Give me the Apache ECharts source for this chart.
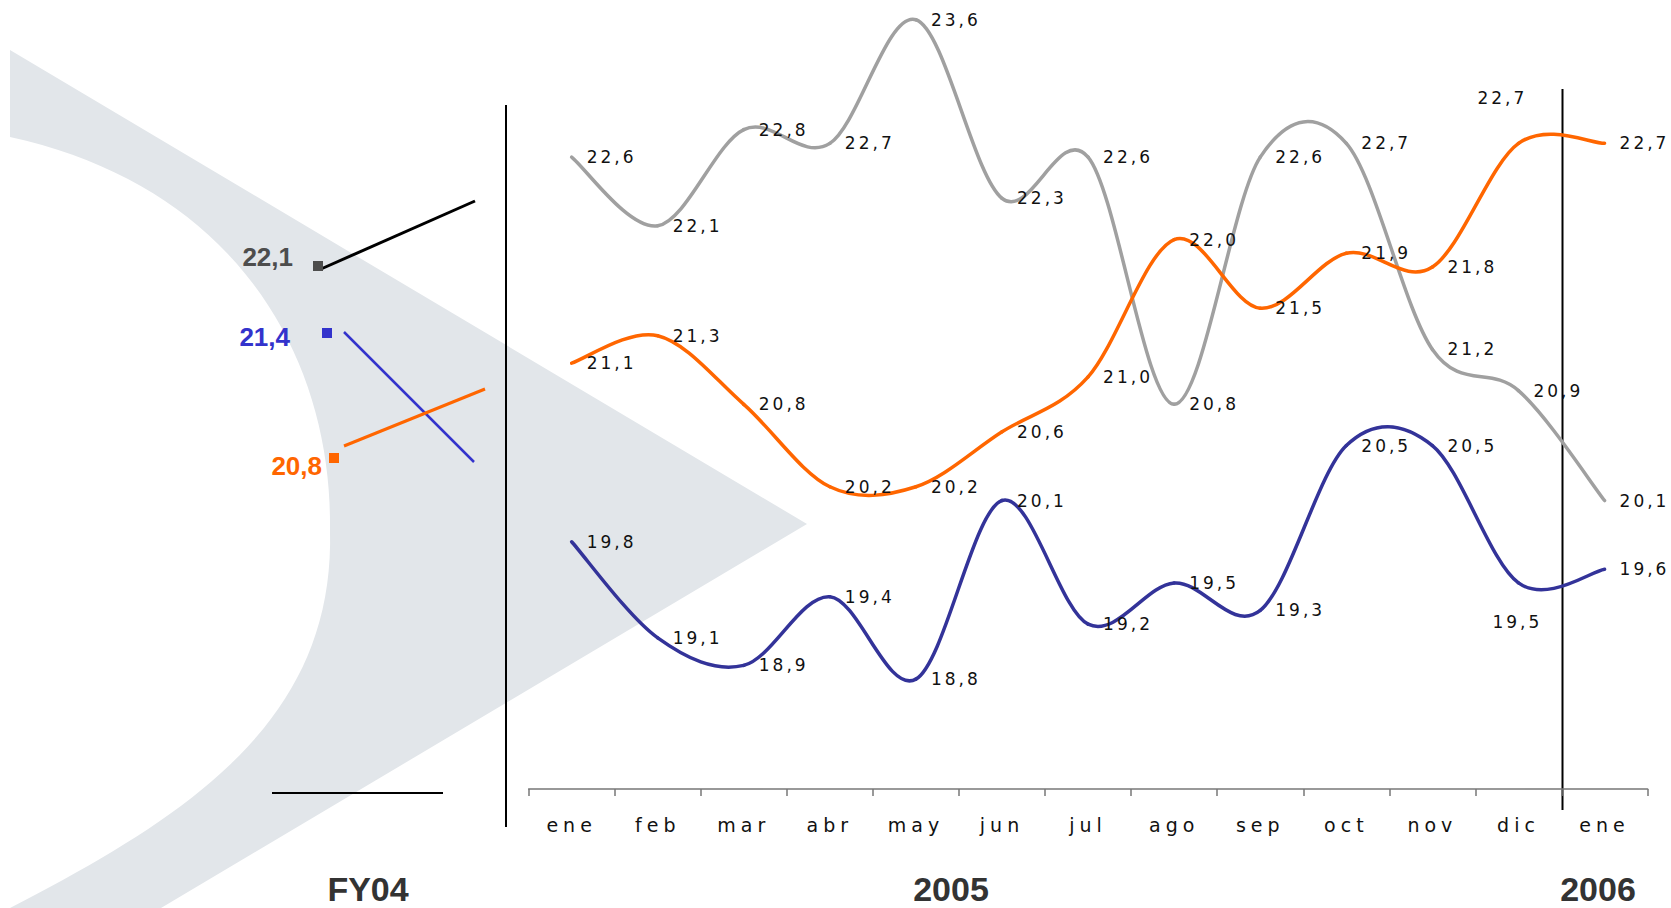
<!DOCTYPE html>
<html>
<head>
<meta charset="utf-8">
<script src="https://cdn.jsdelivr.net/npm/echarts@6/dist/echarts.min.js"></script>
<style>
  html, body { margin: 0; padding: 0; background: #ffffff; }
  #chart { width: 1671px; height: 908px; }
  #chart text { letter-spacing: 3px; }
  #chart text[style*="19px"] { letter-spacing: 5px; }
  #chart text[style*="bold"] { letter-spacing: 0px; }
</style>
</head>
<body>
<div id="chart"></div>
<script>
// ---- data ----
const months = ['ene', 'feb', 'mar', 'abr', 'may', 'jun', 'jul', 'ago', 'sep', 'oct', 'nov', 'dic', 'ene'];
const grayValues   = [22.6, 22.1, 22.8, 22.7, 23.6, 22.3, 22.6, 20.8, 22.6, 22.7, 21.2, 20.9, 20.1];
const orangeValues = [21.1, 21.3, 20.8, 20.2, 20.2, 20.6, 21.0, 22.0, 21.5, 21.9, 21.8, 22.7, 22.7];
const blueValues   = [19.8, 19.1, 18.9, 19.4, 18.8, 20.1, 19.2, 19.5, 19.3, 20.5, 20.5, 19.5, 19.6];
const fy04Labels   = ['22,1', '21,4', '20,8'];
const periodLabels = ['FY04', '2005', '2006'];

const GRAY = '#a0a0a0', ORANGE = '#ff6600', BLUE = '#333399';
const fmt = v => v.toFixed(1).replace('.', ',');

// rows: [index, previous, current, next, next-next] (ends repeat the edge value)
function rows(values) {
  const n = values.length;
  return values.map((v, i) => [
    i,
    values[Math.max(i - 1, 0)],
    v,
    values[Math.min(i + 1, n - 1)],
    values[Math.min(i + 2, n - 1)]
  ]);
}

// smoothed (Catmull-Rom style, 1/6 tension) line + value label, drawn via the axis scales
function smoothSeries(name, values, color, z, labelOffsets) {
  const n = values.length;
  return {
    name: name, type: 'custom', coordinateSystem: 'cartesian2d', z: z,
    encode: { x: 0, y: 2 },
    data: rows(values),
    renderItem: function (params, api) {
      const i = api.value(0);
      const iPrev = Math.max(i - 1, 0), iNext = Math.min(i + 1, n - 1), iNext2 = Math.min(i + 2, n - 1);
      const p0 = api.coord([iPrev, api.value(1)]);
      const p1 = api.coord([i, api.value(2)]);
      const p2 = api.coord([iNext, api.value(3)]);
      const p3 = api.coord([iNext2, api.value(4)]);
      const children = [];
      if (i < n - 1) {
        children.push({
          type: 'bezierCurve',
          shape: {
            x1: p1[0], y1: p1[1],
            cpx1: p1[0] + (p2[0] - p0[0]) / 6, cpy1: p1[1] + (p2[1] - p0[1]) / 6,
            cpx2: p2[0] - (p3[0] - p1[0]) / 6, cpy2: p2[1] - (p3[1] - p1[1]) / 6,
            x2: p2[0], y2: p2[1]
          },
          style: { stroke: color, lineWidth: 3.5, fill: null, lineCap: 'round' }
        });
      }
      const off = labelOffsets[i] || [0, 0];
      children.push({
        type: 'text', z2: 10,
        x: p1[0] + 15 + off[0], y: p1[1] + off[1],
        style: {
          text: fmt(api.value(2)), fill: '#111', fontSize: 17, fontFamily: 'DejaVu Sans',
          align: 'left', verticalAlign: 'middle'
        }
      });
      return { type: 'group', children: children };
    }
  };
}

// background decoration outline (sampled cubic curves)
function cubic(p0, p1, p2, p3, n) {
  const pts = [];
  for (let k = 1; k <= n; k++) {
    const t = k / n, u = 1 - t;
    pts.push([
      u*u*u*p0[0] + 3*u*u*t*p1[0] + 3*u*t*t*p2[0] + t*t*t*p3[0],
      u*u*u*p0[1] + 3*u*u*t*p1[1] + 3*u*t*t*p2[1] + t*t*t*p3[1]
    ]);
  }
  return pts;
}
const shapePts = [[10, 50], [807, 524], [161, 908], [10, 908]]
  .concat(cubic([10, 908], [190, 815], [335, 720], [330, 530], 40))
  .concat(cubic([330, 530], [332, 350], [230, 185], [10, 137], 40));

const chart = echarts.init(document.getElementById('chart'), null, { renderer: 'svg' });

const boldText = (x, y, text, fill, size, align) => ({
  type: 'text', x: x, y: y,
  style: { text: text, fill: fill, fontSize: size, fontWeight: 'bold', fontFamily: 'Liberation Sans', align: align, verticalAlign: 'middle' }
});

const option = {
  animation: false,
  backgroundColor: '#ffffff',
  grid: { left: 528.6, right: 23.4, top: 6, bottom: 119, containLabel: false },
  xAxis: {
    type: 'category', data: months, boundaryGap: true,
    axisLine: { show: true, lineStyle: { color: '#777777', width: 1.5 } },
    axisTick: { show: true, length: 7, lineStyle: { color: '#777777', width: 1.5 } },
    axisLabel: { margin: 26, color: '#111', fontSize: 19, fontFamily: 'DejaVu Sans' },
    splitLine: { show: false }
  },
  yAxis: { type: 'value', min: 18, max: 23.7, show: false, splitLine: { show: false } },
  graphic: [
    { type: 'polygon', z: -10, silent: true, shape: { points: shapePts }, style: { fill: '#e2e6ea' } },
    { type: 'line', shape: { x1: 506, y1: 105, x2: 506, y2: 827 }, style: { stroke: '#000', lineWidth: 2 } },
    { type: 'line', shape: { x1: 1562.5, y1: 89, x2: 1562.5, y2: 810 }, style: { stroke: '#000', lineWidth: 2 } },
    { type: 'line', shape: { x1: 272, y1: 793, x2: 443, y2: 793 }, style: { stroke: '#000', lineWidth: 2 } },
    { type: 'line', shape: { x1: 321, y1: 269, x2: 475, y2: 201 }, style: { stroke: '#000', lineWidth: 3 } },
    { type: 'line', shape: { x1: 344, y1: 332, x2: 474, y2: 462 }, style: { stroke: '#3333cc', lineWidth: 2.5 } },
    { type: 'line', shape: { x1: 344, y1: 446, x2: 485, y2: 389 }, style: { stroke: ORANGE, lineWidth: 3 } },
    { type: 'rect', shape: { x: 313, y: 261, width: 10, height: 10 }, style: { fill: '#4d4d4d' } },
    { type: 'rect', shape: { x: 322, y: 328, width: 10, height: 10 }, style: { fill: '#3333cc' } },
    { type: 'rect', shape: { x: 329, y: 453, width: 10, height: 10 }, style: { fill: ORANGE } },
    boldText(293, 257, fy04Labels[0], '#4d4d4d', 26, 'right'),
    boldText(290, 337, fy04Labels[1], '#3333cc', 26, 'right'),
    boldText(322, 466, fy04Labels[2], ORANGE, 26, 'right'),
    boldText(368, 889, periodLabels[0], '#333333', 34, 'center'),
    boldText(951, 889, periodLabels[1], '#333333', 34, 'center'),
    boldText(1598, 889, periodLabels[2], '#333333', 34, 'center')
  ],
  series: [
    smoothSeries('gray', grayValues, GRAY, 3, {}),
    smoothSeries('orange', orangeValues, ORANGE, 4, { 11: [-56, -45] }),
    smoothSeries('blue', blueValues, BLUE, 5, { 11: [-41, 39] })
  ]
};
chart.setOption(option);
</script>
</body>
</html>
